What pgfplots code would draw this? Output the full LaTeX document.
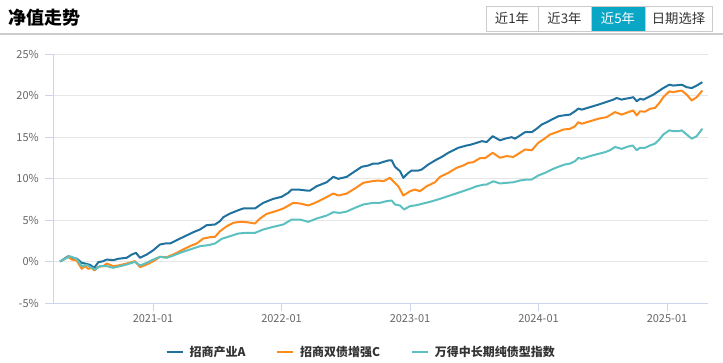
\documentclass[border=0pt]{standalone}
\usepackage{fontspec}
\setmainfont{Noto Sans CJK SC}
\usepackage{pgfplots}
\usepackage{pgfplotstable}
\pgfplotsset{compat=1.18}
\definecolor{cA}{HTML}{20719E}
\definecolor{cC}{HTML}{FF8A1C}
\definecolor{cI}{HTML}{5CC0C0}
\definecolor{gridc}{HTML}{E6E6E6}
\definecolor{axl}{HTML}{CCD6EB}
\definecolor{lbl}{HTML}{666666}
\definecolor{txt}{HTML}{333333}
\definecolor{btn}{HTML}{0AA6C6}
\definecolor{sep}{HTML}{CCCCCC}

% px = horizontal position in the chart (153 = 2021-01, 128.5 per year), v = return in %
\pgfplotstableread{
px v
60 0
68.3 0.64
71.7 0.36
76.7 0.36
81.7 -0.16
85 -0.24
90 -0.4
94.3 -0.76
98.3 -0.08
103.3 0.04
106.7 0.24
113.3 0.16
118.3 0.33
126.7 0.45
131.7 0.84
136 1.04
140 0.45
146.7 0.84
153.3 1.36
160 2.05
165 2.17
170 2.17
176.7 2.57
185 3.05
193.3 3.53
200 3.86
206.7 4.38
215 4.46
220 4.86
223.3 5.34
230 5.78
238.3 6.18
243.3 6.39
250 6.40
255 6.40
263.3 7.07
273.3 7.55
281.7 7.8
288.3 8.28
291.7 8.67
298.3 8.67
306.7 8.55
310 8.55
316.7 9.07
326.7 9.55
333.3 10.2
338.3 9.96
346.7 10.2
355 10.88
361.7 11.41
368.3 11.57
373.3 11.8
378.3 11.8
383.3 12.0
388.3 12.17
391.7 12.2
395 11.41
400 10.88
403.3 10.08
408.3 10.68
411.7 10.96
418.3 10.96
421.7 11.08
428.3 11.69
436.7 12.29
441.7 12.6
448.3 13.1
458.3 13.7
466.7 13.98
470 14.05
476.7 14.3
481.7 14.5
486.7 14.4
492.7 15.1
500 14.6
505 14.8
511.7 14.98
515 14.8
520 15.18
525 15.58
531.7 15.58
536.7 16.0
541.7 16.5
546.7 16.78
553.3 17.2
558.3 17.5
563.3 17.6
570 17.7
575 18.1
578.3 18.43
581.7 18.3
590 18.6
598.3 18.9
606.7 19.24
613.3 19.5
616.7 19.7
621.7 19.5
625 19.6
630 19.7
633.3 19.8
636.7 19.3
640 19.6
643.3 19.5
648.3 19.8
653.3 20.1
658.3 20.5
663.3 20.9
669.3 21.3
673.3 21.2
678.3 21.25
681.7 21.3
686.7 21.0
691.7 20.9
696.7 21.2
702.3 21.6
}\dataA

\pgfplotstableread{
px v
60 0
68.3 0.56
71.7 0.24
76.7 0.12
81.7 -0.88
85 -0.56
88.3 -0.88
91.7 -0.76
94.3 -1.08
98.3 -0.64
103.3 -0.56
106.7 -0.24
113.3 -0.56
118.3 -0.48
126.7 -0.24
135 0.04
140 -0.68
146.7 -0.36
153.3 0.04
160 0.56
166.7 0.52
173.3 0.84
181.7 1.36
190 1.85
196.7 2.17
203.3 2.77
210 2.93
215 2.97
220 3.65
226.7 4.25
233.3 4.66
240 4.78
246.7 4.74
255 4.58
260 5.18
266.7 5.74
276.7 6.1
283.3 6.39
293.3 7.07
300 6.99
308.3 6.75
315 7.07
323.3 7.55
333.3 8.19
338.3 7.95
346.7 8.19
355 8.8
363.3 9.48
371.7 9.67
378.3 9.76
383.3 9.67
390 10.08
393.3 9.67
398.3 9.07
403.3 7.95
410 8.47
415 8.67
420 8.47
426.7 9.07
435 9.55
440 10.2
448.3 10.68
456.7 11.29
463.3 11.57
468.3 11.89
473.3 11.97
480 12.45
485 12.45
492.7 13.1
500 12.5
506.7 12.7
513.3 12.6
520 13.1
525 13.5
531.7 13.4
538.3 14.3
543.3 14.7
550 15.3
556.7 15.58
563.3 15.9
570 15.98
575 16.3
578.3 16.78
581.7 16.6
590 16.9
598.3 17.2
606.7 17.4
615 18.0
621.7 17.7
628.3 18.0
633.3 18.2
636.7 17.6
640 18.1
645 18.05
650 18.4
655 18.5
660 19.2
663.3 19.8
669.3 20.5
673.3 20.4
676.7 20.5
681.7 20.6
686.7 20.1
691.7 19.4
696.7 19.8
702.3 20.6
}\dataC

\pgfplotstableread{
px v
60 0
70 0.64
76.7 0.32
81.7 -0.56
86.7 -0.4
90 -0.64
95 -0.96
100 -0.56
106.7 -0.56
113.3 -0.76
120 -0.56
126.7 -0.36
135 -0.04
140 -0.48
146.7 -0.16
153.3 0.24
160 0.56
166.7 0.45
173.3 0.72
181.7 1.12
190 1.45
200 1.85
208.3 1.97
215 2.17
221.7 2.73
230 3.05
238.3 3.37
245 3.45
255 3.45
263.3 3.86
273.3 4.18
283.3 4.46
291.7 5.06
300 5.06
308.3 4.78
316.7 5.18
326.7 5.54
333.3 5.94
340 5.86
346.7 6.02
355 6.47
363.3 6.87
373.3 7.07
380 7.07
386.7 7.27
391.7 7.35
395 6.87
400 6.75
404 6.27
410 6.67
416.7 6.79
423.3 6.99
430 7.19
440 7.55
450 7.95
460 8.35
470 8.76
476.7 9.07
483.3 9.25
486.7 9.28
493.3 9.67
500 9.4
506.7 9.48
513.3 9.55
520 9.76
526.7 9.88
531.7 9.88
538.3 10.36
545 10.68
551.7 11.08
558.3 11.41
565 11.69
570 11.8
575 12.08
578.3 12.49
581.7 12.37
590 12.7
598.3 12.97
605 13.17
610 13.41
615 13.8
621.7 13.57
626.7 13.8
632.7 13.98
636.7 13.41
640 13.7
645 13.7
650 13.98
655 14.2
660 14.8
663.3 15.3
669.3 15.8
673.3 15.7
678.3 15.7
681.7 15.8
686.7 15.3
691.7 14.8
696.7 15.1
702.3 16.0
}\dataI

\begin{document}
\begin{tikzpicture}
\useasboundingbox (0pt,0pt) rectangle (542.25pt,-271.5pt);
\begin{scope}[x=0.75pt,y=-0.75pt]
  \node[anchor=west, inner sep=0pt, font=\bfseries\fontsize{13.5}{16}\selectfont, text=black] at (8,17.5) {净值走势};
  \draw[sep, line width=1.1pt] (0,34) -- (723,34);
  \fill[btn] (591,6) rectangle (645,31);
  \draw[sep, line width=0.75pt] (486,6) rectangle (712,31);
  \draw[sep, line width=0.75pt] (538,6) -- (538,31) (591,6) -- (591,31) (645,6) -- (645,31);
  \begin{scope}[every node/.style={inner sep=0pt, font=\fontsize{10}{12}\selectfont, text=txt}]
    \node at (512,18.5) {近1年};
    \node at (564.5,18.5) {近3年};
    \node[text=white] at (618,18.5) {近5年};
    \node at (678.5,18.5) {日期选择};
  \end{scope}
\end{scope}
\begin{axis}[
  at={(39.75pt,-227.25pt)}, anchor=south west,
  scale only axis, width=491.25pt, height=186.75pt,
  xmin=2020.2218, xmax=2025.3191,
  ymin=-5, ymax=25,
  ytick={-5,0,5,10,15,20,25},
  yticklabel={\pgfmathprintnumber{\tick}\%},
  xtick={2021,2022,2023,2024,2025},
  xticklabels={2021-01,2022-01,2023-01,2024-01,2025-01},
  /pgf/number format/assume math mode=true,
  axis x line*=bottom, axis y line*=left,
  axis line style={draw=axl, line width=0.75pt, -},
  tick align=outside, major tick length=6pt,
  tick style={draw=axl, line width=0.75pt},
  ymajorgrids, major grid style={draw=gridc, line width=0.75pt},
  ticklabel style={font=\fontsize{8.25}{10}\selectfont, text=lbl},
  yticklabel style={inner sep=0pt, xshift=-4.5pt},
  xticklabel style={inner sep=0pt, yshift=-2.5pt},
  legend columns=-1,
  legend style={at={(axis description cs:0.471,-0.197)}, anchor=center, draw=none, fill=none,
    font=\bfseries\fontsize{9}{11}\selectfont, text=txt, inner sep=0pt,
    /tikz/every odd column/.append style={column sep=2.5pt},
    /tikz/every even column/.append style={column sep=21pt}},
  legend image code/.code={\draw[#1, line width=1.5pt] (0pt,0pt) -- (12pt,0pt);},
]
\addplot[cA, line width=1.5pt, line join=round] table[x expr={2021+(\thisrow{px}-153)/128.5}, y=v] {\dataA};
\addlegendentry{招商产业A}
\addplot[cC, line width=1.5pt, line join=round] table[x expr={2021+(\thisrow{px}-153)/128.5}, y=v] {\dataC};
\addlegendentry{招商双债增强C}
\addplot[cI, line width=1.5pt, line join=round] table[x expr={2021+(\thisrow{px}-153)/128.5}, y=v] {\dataI};
\addlegendentry{万得中长期纯债型指数}
\end{axis}
\end{tikzpicture}
\end{document}
